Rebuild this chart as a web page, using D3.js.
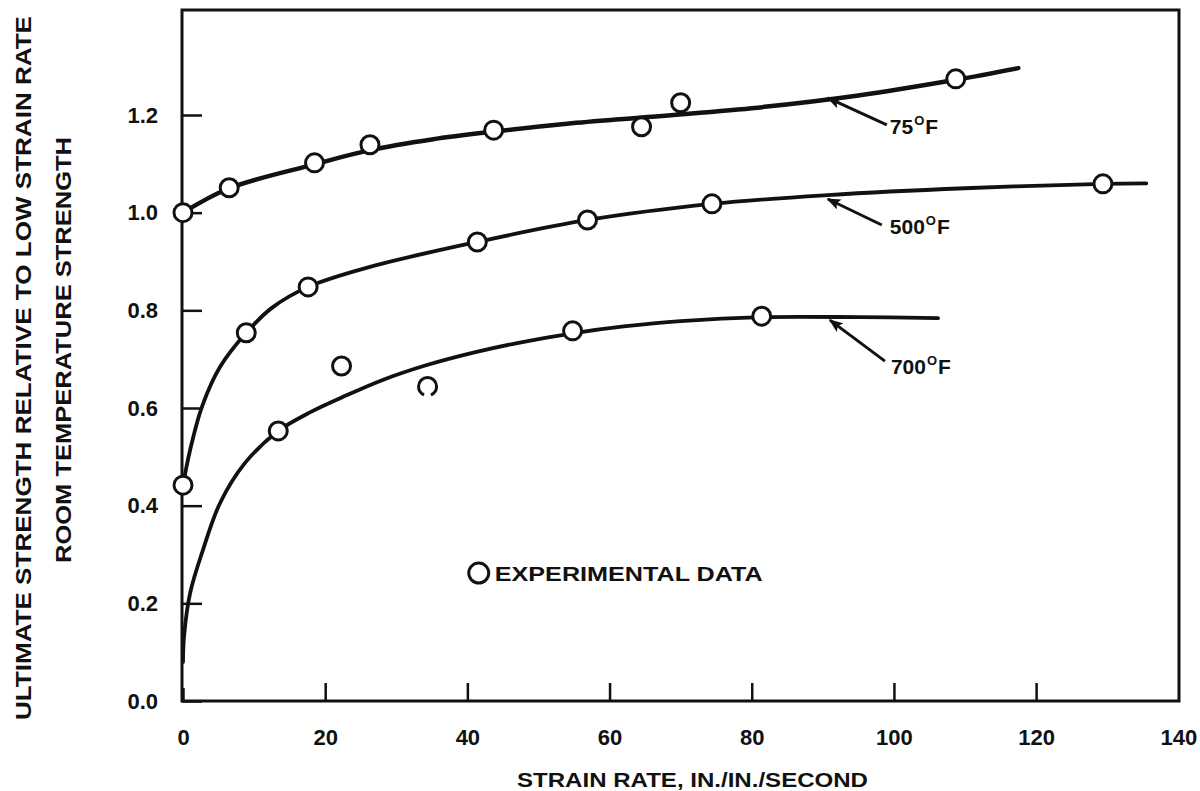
<!DOCTYPE html>
<html>
<head>
<meta charset="utf-8">
<script src="https://cdn.jsdelivr.net/npm/d3@7/dist/d3.min.js"></script>
<style>
  html, body { margin: 0; padding: 0; background: #ffffff; }
  svg { display: block; }
  text { font-family: "Liberation Sans", Arial, Helvetica, sans-serif; font-weight: bold; fill: #111; }
</style>
</head>
<body>
<svg id="chart" width="1200" height="791"></svg>
<script>
// ---- data ----
const xTicks = [0, 20, 40, 60, 80, 100, 120, 140];
const yTicks = [0.0, 0.2, 0.4, 0.6, 0.8, 1.0, 1.2];
const yTickLabels = ["0.0", "0.2", "0.4", "0.6", "0.8", "1.0", "1.2"];

const seriesNames = ["75°F", "500°F", "700°F"];

// experimental data points [strain rate, relative strength]
const points75 = [[0, 1.0], [6.5, 1.051], [18.5, 1.102], [26.3, 1.139], [43.7, 1.169], [64.5, 1.176], [70, 1.225], [108.7, 1.274]];
const points500 = [[0, 0.442], [8.9, 0.754], [17.6, 0.848], [41.4, 0.940], [56.9, 0.985], [74.4, 1.018], [129.4, 1.059]];
const points700 = [[13.4, 0.553], [22.3, 0.686], [34.4, 0.644], [54.8, 0.758], [81.4, 0.788]];

// fitted curves
const curve75 = [[0, 1.0], [6.5, 1.05], [18.5, 1.099], [26.3, 1.128], [35, 1.150], [43.7, 1.166], [54, 1.182], [64.5, 1.195], [80, 1.214], [95, 1.240], [108.7, 1.272], [117.5, 1.296]];
const curve500 = [[0, 0.442], [1.0, 0.514], [2.7, 0.604], [5.2, 0.684], [8.9, 0.754], [12.5, 0.805], [17.6, 0.848], [26.3, 0.889], [41.4, 0.940], [56.9, 0.985], [74.4, 1.018], [90.7, 1.036], [110, 1.050], [129.4, 1.059], [135.5, 1.060]];
const curve700 = [[0, 0.08], [0.14, 0.131], [1.0, 0.221], [2.8, 0.309], [5.2, 0.405], [8.7, 0.487], [13.4, 0.553], [18, 0.592], [22.4, 0.622], [28, 0.657], [34.3, 0.688], [41, 0.714], [47, 0.733], [54.8, 0.753], [62, 0.767], [70, 0.778], [81.4, 0.786], [95, 0.786], [106.2, 0.784]];

// label arrow tips on the curves [strain rate, strength]
const labelTips = [[90.7, 1.235], [90.7, 1.028], [91.0, 0.780]];

const xTitle = "STRAIN RATE, IN./IN./SECOND";
const yTitle1 = "ULTIMATE STRENGTH RELATIVE TO LOW STRAIN RATE";
const yTitle2 = "ROOM TEMPERATURE STRENGTH";
const legendText = "EXPERIMENTAL DATA";

// ---- drawing ----
const svg = d3.select("#chart");
const x = d3.scaleLinear().domain([0, 140.1]).range([183, 1179]);
const y = d3.scaleLinear().domain([0, 1.415]).range([701, 10]);

const defs = svg.append("defs");
defs.append("marker")
  .attr("id", "arrow").attr("viewBox", "0 0 10 10")
  .attr("refX", 9).attr("refY", 5)
  .attr("markerWidth", 14).attr("markerHeight", 11)
  .attr("markerUnits", "userSpaceOnUse")
  .attr("orient", "auto-start-reverse")
  .attr("preserveAspectRatio", "none")
  .append("path").attr("d", "M0,0 L10,5 L0,10 L2,5 Z").attr("fill", "#111");

// frame
const x0 = x(0) - 1, x1 = x(140.1), yb = y(0), yt = y(1.415);
svg.append("path")
  .attr("d", `M${x0},${yb} L${x0},${yt} L${x1},${yt} L${x1},${yb} Z`)
  .attr("fill", "none").attr("stroke", "#111").attr("stroke-width", 3);

// y axis
const yAxis = d3.axisLeft(y).tickValues(yTicks)
  .tickFormat((d, i) => yTickLabels[i])
  .tickSizeInner(-20).tickSizeOuter(0).tickPadding(24);
const gy = svg.append("g").attr("transform", `translate(${x0},0)`).call(yAxis);
gy.select(".domain").remove();
gy.selectAll(".tick line").attr("stroke", "#111").attr("stroke-width", 2.5);
gy.selectAll(".tick text").style("font-size", "22px").style("font-family", null).attr("fill", "#111");

// x axis
const xAxis = d3.axisBottom(x).tickValues(xTicks)
  .tickFormat(d3.format("d"))
  .tickSizeInner(-18).tickSizeOuter(0).tickPadding(28);
const gx = svg.append("g").attr("transform", `translate(0,${yb})`).call(xAxis);
gx.select(".domain").remove();
gx.selectAll(".tick line").attr("stroke", "#111").attr("stroke-width", 2.5)
  .attr("y2", d => d === 0 ? -13 : (d === 140 ? 0 : -18));
gx.selectAll(".tick text").style("font-size", "22px").style("font-family", null).attr("fill", "#111");

// curves
const line = d3.line().x(d => x(d[0])).y(d => y(d[1])).curve(d3.curveCatmullRom.alpha(0.5));
[curve75, curve500, curve700].forEach((c, i) => {
  svg.append("path").datum(c)
    .attr("d", line)
    .attr("fill", "none").attr("stroke", "#111")
    .attr("stroke-width", i === 0 ? 4.5 : 3.8)
    .attr("stroke-linecap", "round");
});

// points
const r = 9;
const circ = 2 * Math.PI * r;
[points75, points500, points700].forEach((pts, si) => {
  svg.append("g").selectAll("circle").data(pts).join("circle")
    .attr("cx", d => x(d[0])).attr("cy", d => y(d[1])).attr("r", r)
    .attr("fill", "#fff").attr("stroke", "#111").attr("stroke-width", 3)
    .attr("stroke-dasharray", (d, i) => (si === 2 && i === 2) ? `${circ / 4 - 3.5} 7 ${circ}` : null);
});

// temperature labels with arrows
const lineEndOffsets = [[59, 27], [54, 26], [55, 41]];
const textOffsets = [[62, 36], [62, 35], [61, 54]];
labelTips.forEach((t, i) => {
  const tx = x(t[0]), ty = y(t[1]);
  svg.append("line")
    .attr("x1", tx + lineEndOffsets[i][0]).attr("y1", ty + lineEndOffsets[i][1])
    .attr("x2", tx).attr("y2", ty)
    .attr("stroke", "#111").attr("stroke-width", 3)
    .attr("marker-end", "url(#arrow)");
  const name = seriesNames[i];
  const num = name.replace("°F", "");
  const txt = svg.append("text")
    .attr("x", tx + textOffsets[i][0]).attr("y", ty + textOffsets[i][1])
    .style("font-size", "21px");
  txt.append("tspan").text(num);
  txt.append("tspan").text("O").style("font-size", "13px").attr("dy", -9).attr("dx", 1);
  txt.append("tspan").text("F").attr("dy", 9).attr("dx", 1);
});

// legend
const legX = 41.6, legY = 0.262;
svg.append("circle").attr("cx", x(legX)).attr("cy", y(legY)).attr("r", 10)
  .attr("fill", "#fff").attr("stroke", "#111").attr("stroke-width", 3);
svg.append("text").attr("x", x(legX) + 16).attr("y", y(legY) + 8)
  .attr("textLength", 268).attr("lengthAdjust", "spacingAndGlyphs")
  .style("font-size", "21px").text(legendText);

// axis titles
svg.append("text").attr("x", 517).attr("y", 787)
  .attr("textLength", 351).attr("lengthAdjust", "spacingAndGlyphs")
  .style("font-size", "20px").text(xTitle);

svg.append("text").attr("transform", "translate(31,720) rotate(-90)")
  .attr("textLength", 704).attr("lengthAdjust", "spacingAndGlyphs")
  .style("font-size", "22px").text(yTitle1);

svg.append("text").attr("transform", "translate(71,563) rotate(-90)")
  .attr("textLength", 426).attr("lengthAdjust", "spacingAndGlyphs")
  .style("font-size", "22px").text(yTitle2);
</script>
</body>
</html>
